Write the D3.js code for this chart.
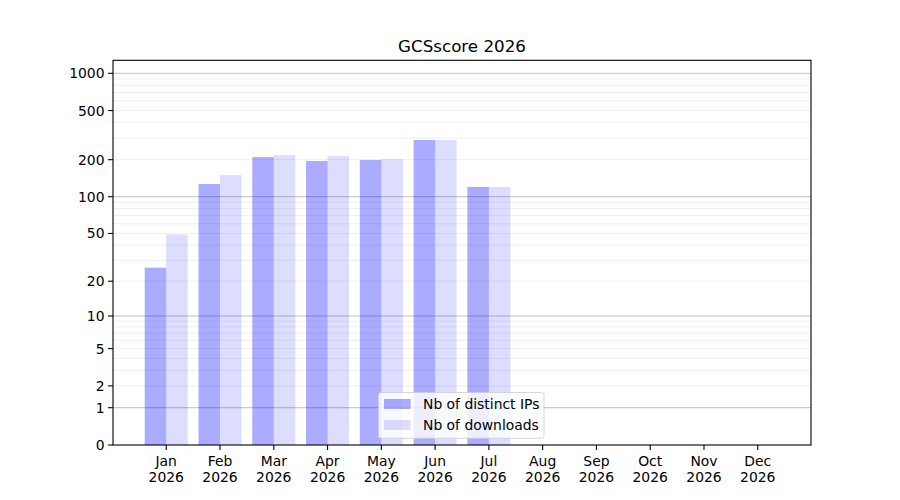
<!DOCTYPE html>
<html><head><meta charset="utf-8">
<script src="https://cdn.jsdelivr.net/npm/d3@7/dist/d3.min.js"></script>
<style>body{margin:0;background:#fff}svg text{font-family:"DejaVu Sans",sans-serif;fill:#000}</style>
</head><body><svg id="c" width="900" height="500"></svg>
<script>
const months = ["Jan","Feb","Mar","Apr","May","Jun","Jul","Aug","Sep","Oct","Nov","Dec"];
const year = "2026";
const distinctIPs = [26,127,210,195,199,289,120,0,0,0,0,0];
const downloads   = [49,150,218,214,202,289,120,0,0,0,0,0];
const yTicks = [0,1,2,5,10,20,50,100,200,500,1000];
const majorGrid = [1,10,100,1000];
const minorGrid = [2,3,4,5,6,7,8,9,20,30,40,50,60,70,80,90,200,300,400,500,600,700,800,900];
const title = "GCSscore 2026";
const seriesNames = ["Nb of distinct IPs","Nb of downloads"];

const svg = d3.select("#c");
const L=113, R=811, T=60.3, B=445;
const x = d3.scaleLinear().domain([-0.99, 11.99]).range([L,R]);
const y = d3.scaleSymlog().constant(1).domain([0,1274]).range([B,T]);
const bw = 0.4;
const fs = "13.9px";

// grid
svg.append("g").selectAll("line").data(minorGrid).join("line")
  .attr("x1",L).attr("x2",R).attr("y1",d=>y(d)).attr("y2",d=>y(d))
  .attr("stroke","#ebebeb").attr("stroke-width",0.8);
svg.append("g").selectAll("line").data(majorGrid).join("line")
  .attr("x1",L).attr("x2",R).attr("y1",d=>y(d)).attr("y2",d=>y(d))
  .attr("stroke","#b0b0b0").attr("stroke-width",0.8);

// bars
svg.append("g").selectAll("rect").data(distinctIPs).join("rect")
  .attr("x",(d,i)=>x(i-bw)).attr("width",x(bw)-x(0))
  .attr("y",d=>y(d)).attr("height",d=>B-y(d))
  .attr("fill","#0000ff").attr("fill-opacity",0.33);
svg.append("g").selectAll("rect").data(downloads).join("rect")
  .attr("x",(d,i)=>x(i)).attr("width",x(bw)-x(0))
  .attr("y",d=>y(d)).attr("height",d=>B-y(d))
  .attr("fill","#0000ff").attr("fill-opacity",0.135);

// frame
svg.append("rect").attr("x",L).attr("y",T).attr("width",R-L).attr("height",B-T)
  .attr("fill","none").attr("stroke","#000").attr("stroke-width",1.1);

// y axis
const ya = svg.append("g");
yTicks.forEach(v=>{
  const yy=y(v);
  ya.append("line").attr("x1",L-4.9).attr("x2",L).attr("y1",yy).attr("y2",yy).attr("stroke","#000").attr("stroke-width",1.1);
  ya.append("text").attr("x",L-8.5).attr("y",yy).attr("dy","0.36em").attr("text-anchor","end")
    .attr("font-size",fs).text(v);
});
// x axis
const xa = svg.append("g");
months.forEach((m,i)=>{
  const xx=x(i);
  xa.append("line").attr("x1",xx).attr("x2",xx).attr("y1",B).attr("y2",B+4.9).attr("stroke","#000").attr("stroke-width",1.1);
  const t=xa.append("text").attr("x",xx).attr("y",B+21).attr("text-anchor","middle").attr("font-size",fs);
  t.append("tspan").attr("x",xx).text(m);
  t.append("tspan").attr("x",xx).attr("dy","1.16em").text(year);
});

// title
svg.append("text").attr("x",(L+R)/2).attr("y",52).attr("text-anchor","middle").attr("font-size","16.7px").text(title);

// legend
const lg = svg.append("g");
lg.append("rect").attr("x",378.5).attr("y",392.5).attr("width",165.5).attr("height",45.8).attr("rx",2.5)
  .attr("fill","#fff").attr("fill-opacity",0.8).attr("stroke","#cccccc").attr("stroke-width",0.8);
[0.33,0.135].forEach((op,k)=>{
  const yy = 399 + k*21;
  lg.append("rect").attr("x",384).attr("y",yy).attr("width",26.7).attr("height",10)
    .attr("fill","#0000ff").attr("fill-opacity",op);
  lg.append("text").attr("x",423).attr("y",yy+9.7).attr("font-size",fs).text(seriesNames[k]);
});
</script></body></html>
